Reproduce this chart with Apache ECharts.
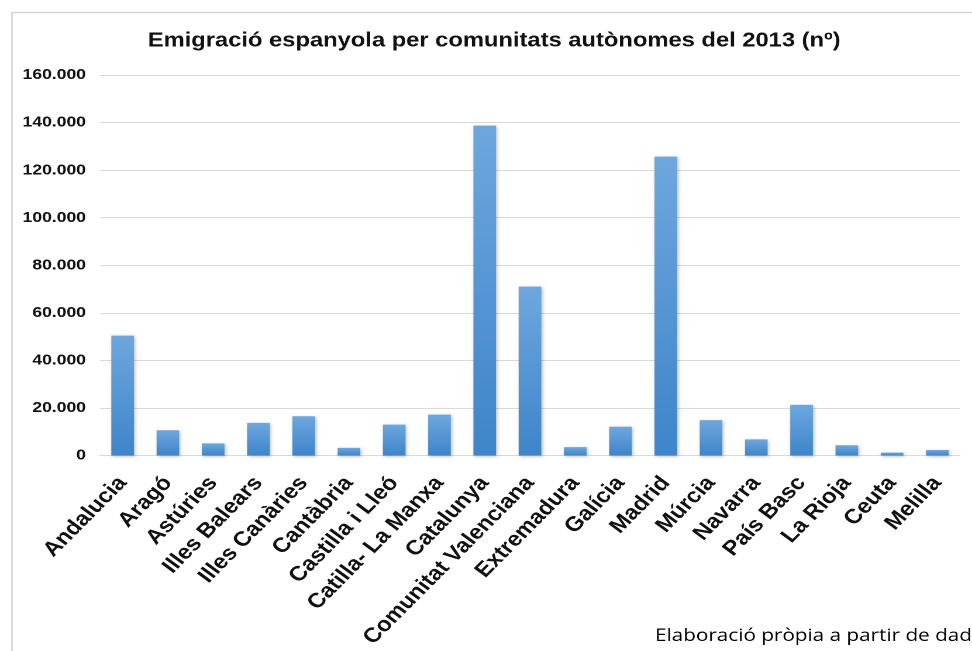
<!DOCTYPE html>
<html>
<head>
<meta charset="utf-8">
<script src="https://cdn.jsdelivr.net/npm/echarts@6/dist/echarts.min.js"></script>
<style>
html,body{margin:0;padding:0;background:#fff;overflow:hidden;width:972px;height:651px;}
#c{width:831px;height:651px;transform:scaleX(1.16968);transform-origin:0 0;}
</style>
</head>
<body>
<div id="c"></div>
<script>
const titleText = "Emigració espanyola per comunitats autònomes del 2013 (nº)";
const footerText = "Elaboració pròpia a partir de dad";
const categories = ["Andalucia","Aragó","Astúries","Illes Balears","Illes Canàries","Cantàbria","Castilla i Lleó","Catilla- La Manxa","Catalunya","Comunitat Valenciana","Extremadura","Galícia","Madrid","Múrcia","Navarra","País Basc","La Rioja","Ceuta","Melilla"];
const values = [50400,10600,5100,13700,16500,3200,13000,17200,138700,71000,3500,12100,125700,14900,6800,21300,4300,1200,2300];
const yTicks = [0,20000,40000,60000,80000,100000,120000,140000,160000];

const chart = echarts.init(document.getElementById('c'), null, {renderer:'canvas', devicePixelRatio:2});
function fmt(v){ return String(v).replace(/\B(?=(\d{3})+(?!\d))/g, '.'); }
chart.setOption({
  animation:false,
  backgroundColor:'#ffffff',
  grid:{left:85.5,right:10.3,top:75,bottom:195.5,containLabel:false},
  xAxis:{type:'category',data:categories,
    axisLine:{show:true,lineStyle:{color:'#d9d9d9',width:1}},
    axisTick:{show:false},
    axisLabel:{interval:0,rotate:49.5,margin:24,fontFamily:'Liberation Sans',fontWeight:'bold',fontSize:20.5,color:'#111'}},
  yAxis:{type:'value',min:yTicks[0],max:yTicks[yTicks.length-1],interval:20000,
    axisLine:{show:false},axisTick:{show:false},
    splitLine:{lineStyle:{color:'#d9d9d9',width:1}},
    axisLabel:{margin:12,formatter:fmt,fontFamily:'Liberation Sans',fontWeight:'bold',fontSize:15,color:'#111'}},
  series:[{type:'bar',data:values,barWidth:'50%',
    itemStyle:{
      color:new echarts.graphic.LinearGradient(0,0,0,1,[{offset:0,color:'#6ea7de'},{offset:1,color:'#3e85ca'}]),
      shadowColor:'rgba(0,0,0,0.25)',shadowBlur:3,shadowOffsetX:1,shadowOffsetY:1
    }}],
  graphic:[
    {type:'rect',left:7.7,top:10,shape:{width:1000,height:700},style:{fill:'none',stroke:'#d0d0d0',lineWidth:1.2},z:-1},
    {type:'text',x:422.5,y:41,style:{text:titleText,font:'bold 20.3px "Liberation Sans", Arial, sans-serif',fill:'#111',
      align:'center',verticalAlign:'middle',textAlign:'center',textVerticalAlign:'middle'}},
    {type:'text',x:560,y:636,style:{text:footerText,font:'17.7px "Open Sans", sans-serif',fill:'#000',
      align:'left',verticalAlign:'middle',textAlign:'left',textVerticalAlign:'middle'}}
  ]
});
</script>
</body>
</html>
